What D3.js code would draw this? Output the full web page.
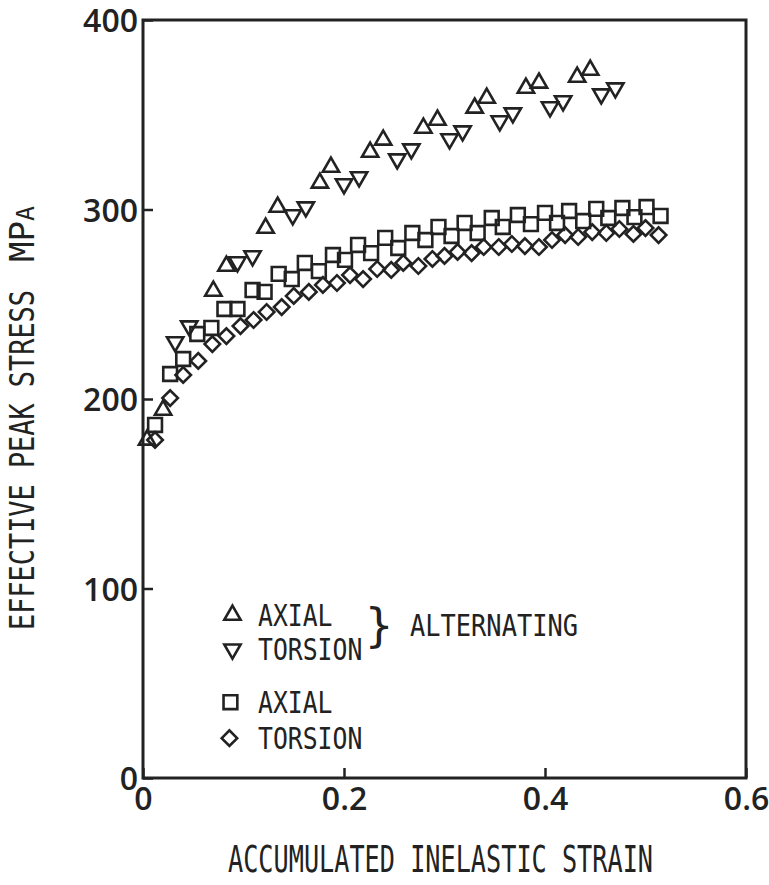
<!DOCTYPE html>
<html lang="en">
<head>
<meta charset="UTF-8">
<title>Effective peak stress vs accumulated inelastic strain</title>
<script src="https://d3js.org/d3.v7.min.js"></script>
<style>
  body { margin: 0; background: #fff; }
  svg { display: block; }
  .tick text { font-family: "Open Sans", sans-serif; font-weight: 600; fill: #222; }
  .lbl { font-family: "DejaVu Sans Mono", monospace; fill: #222; }
</style>
</head>
<body>
<div id="chart"></div>
<script>
// values: strain, stress (MPa)
const axialAltX = [0.004, 0.020, 0.070, 0.083, 0.122, 0.134, 0.176, 0.187, 0.226, 0.239, 0.279, 0.293, 0.330, 0.342, 0.381, 0.394, 0.432, 0.445]
const axialAltY = [178.4, 194.2, 257.0, 270.2, 290.2, 301.3, 314.0, 322.4, 330.3, 336.7, 343.0, 347.2, 353.6, 358.8, 364.1, 366.8, 369.9, 373.6]

const torsAltX = [0.032, 0.046, 0.094, 0.109, 0.149, 0.162, 0.200, 0.215, 0.253, 0.267, 0.305, 0.318, 0.355, 0.368, 0.405, 0.418, 0.456, 0.470]
const torsAltY = [230.1, 238.5, 272.3, 275.5, 297.1, 301.3, 313.5, 317.2, 326.6, 331.9, 337.2, 341.4, 346.7, 350.9, 354.1, 357.3, 360.9, 364.1]

const axialX = [0.012, 0.027, 0.040, 0.054, 0.068, 0.081, 0.094, 0.109, 0.121, 0.135, 0.148, 0.161, 0.175, 0.189, 0.201, 0.214, 0.227, 0.241, 0.254, 0.268, 0.281, 0.294, 0.307, 0.320, 0.333, 0.347, 0.358, 0.373, 0.386, 0.400, 0.412, 0.424, 0.438, 0.451, 0.463, 0.477, 0.489, 0.501, 0.515]
const axialY = [186.3, 213.2, 221.1, 234.3, 237.5, 247.5, 247.5, 257.5, 256.5, 266.0, 263.3, 271.8, 267.5, 276.0, 273.4, 281.3, 277.0, 285.0, 279.7, 287.6, 283.9, 290.8, 286.0, 292.9, 287.6, 295.5, 290.8, 297.1, 292.3, 298.2, 292.9, 299.2, 293.9, 300.3, 295.5, 300.8, 296.0, 301.3, 296.6]

const torsX = [0.012, 0.027, 0.040, 0.055, 0.069, 0.083, 0.097, 0.110, 0.123, 0.138, 0.150, 0.165, 0.179, 0.193, 0.206, 0.219, 0.233, 0.247, 0.259, 0.274, 0.288, 0.300, 0.313, 0.327, 0.339, 0.354, 0.367, 0.380, 0.394, 0.407, 0.420, 0.433, 0.447, 0.461, 0.474, 0.488, 0.500, 0.513]
const torsY = [178.4, 200.5, 212.7, 220.1, 229.0, 233.2, 238.5, 241.7, 245.9, 248.5, 254.4, 256.5, 260.2, 261.2, 265.4, 263.3, 268.6, 268.1, 271.8, 270.2, 273.9, 275.5, 277.6, 277.0, 280.2, 280.2, 281.8, 280.7, 280.2, 283.9, 286.5, 285.5, 288.1, 287.6, 289.7, 287.1, 290.2, 286.5]

const xTicks = [0, 0.2, 0.4, 0.6]
const yTicks = [0, 100, 200, 300, 400]

const width = 769
const height = 885
const margin = {left: 143, right: 23, top: 20, bottom: 107}
const ink = "#222"

const svg = d3.select("#chart").append("svg")
    .attr("width", width)
    .attr("height", height)

const x = d3.scaleLinear().domain([0, 0.6]).range([margin.left, width - margin.right])
const y = d3.scaleLinear().domain([0, 400]).range([height - margin.bottom, margin.top])

// axes, ticks point inward
const xAxis = svg.append("g")
    .attr("transform", "translate(0," + y(0) + ")")
    .call(d3.axisBottom(x).tickValues(xTicks).tickFormat(d => d === 0 ? "0" : d3.format(".1f")(d))
        .tickSizeInner(-10).tickSizeOuter(0).tickPadding(14))
xAxis.select(".domain").remove()
xAxis.selectAll("line").attr("stroke", ink).attr("stroke-width", 2.5)
xAxis.selectAll("text").attr("font-size", 32).attr("dy", "0.55em")

const yAxis = svg.append("g")
    .attr("transform", "translate(" + x(0) + ",0)")
    .call(d3.axisLeft(y).tickValues(yTicks).tickSizeInner(-10).tickSizeOuter(0).tickPadding(5))
yAxis.select(".domain").remove()
yAxis.selectAll("line").attr("stroke", ink).attr("stroke-width", 2.5)
yAxis.selectAll("text").attr("font-size", 32).attr("dy", "0.36em")

// plot frame
svg.append("rect")
    .attr("x", x(0)).attr("y", y(400))
    .attr("width", x(0.6) - x(0)).attr("height", y(0) - y(400))
    .attr("fill", "none").attr("stroke", ink).attr("stroke-width", 3)

// markers
const tri = d3.symbol().type(d3.symbolTriangle).size(115)
const sq = d3.symbol().type(d3.symbolSquare).size(190)
const dia = d3.symbol().type(d3.symbolSquare).size(120)

function drawSeries(xs, ys, path, rot) {
    svg.append("g").selectAll("path")
        .data(xs.map((d, i) => [d, ys[i]]))
        .enter().append("path")
        .attr("d", path)
        .attr("transform", d => "translate(" + x(d[0]) + "," + y(d[1]) + ") rotate(" + rot + ")")
        .attr("fill", "none")
        .attr("stroke", ink)
        .attr("stroke-width", 2.6)
}
drawSeries(axialAltX, axialAltY, tri, 0)
drawSeries(torsAltX, torsAltY, tri, 180)
drawSeries(axialX, axialY, sq, 0)
drawSeries(torsX, torsY, dia, 45)

// legend
const legend = [
    {path: tri, rot: 0, label: "AXIAL", x: 0.089, y: 86},
    {path: tri, rot: 180, label: "TORSION", x: 0.089, y: 68},
    {path: sq, rot: 0, label: "AXIAL", x: 0.087, y: 40},
    {path: dia, rot: 45, label: "TORSION", x: 0.086, y: 21}
]
legend.forEach(function(l) {
    svg.append("path")
        .attr("d", l.path)
        .attr("transform", "translate(" + x(l.x) + "," + y(l.y) + ") rotate(" + l.rot + ")")
        .attr("fill", "none").attr("stroke", ink).attr("stroke-width", 2.6)
    svg.append("text").attr("class", "lbl")
        .attr("x", 258).attr("y", y(l.y) + 11)
        .attr("font-size", 30)
        .attr("textLength", l.label.length * 14.9)
        .attr("lengthAdjust", "spacingAndGlyphs")
        .text(l.label)
})
svg.append("text").attr("class", "lbl")
    .attr("x", 379).attr("y", 641)
    .attr("font-size", 46).attr("font-family", "DejaVu Sans")
    .attr("text-anchor", "middle")
    .text("}")
svg.append("text").attr("class", "lbl")
    .attr("x", 410).attr("y", 636)
    .attr("font-size", 30)
    .attr("textLength", 168)
    .attr("lengthAdjust", "spacingAndGlyphs")
    .text("ALTERNATING")

// axis titles
svg.append("text").attr("class", "lbl")
    .attr("x", 228).attr("y", 872)
    .attr("font-size", 37)
    .attr("textLength", 425)
    .attr("lengthAdjust", "spacingAndGlyphs")
    .text("ACCUMULATED INELASTIC STRAIN")

const yt = svg.append("text").attr("class", "lbl")
    .attr("transform", "translate(34,630) rotate(-90)")
    .attr("font-size", 34)
yt.append("tspan").text("EFFECTIVE PEAK STRESS")
    .attr("textLength", 340).attr("lengthAdjust", "spacingAndGlyphs")
yt.append("tspan").attr("dx", 28).text("MP")
yt.append("tspan").attr("font-size", 25).text("A")
</script>
</body>
</html>
